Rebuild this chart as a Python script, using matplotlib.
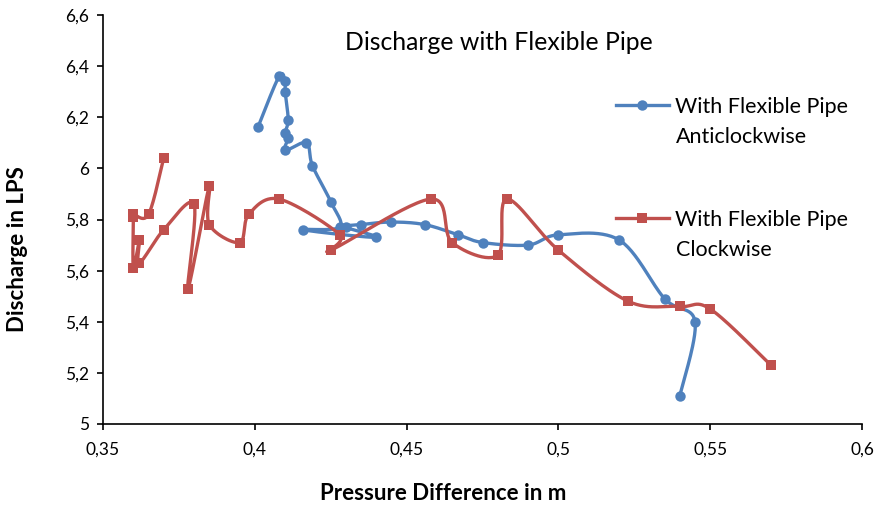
import numpy as np
import matplotlib
matplotlib.use("Agg")
import matplotlib.pyplot as plt
from matplotlib.lines import Line2D
from matplotlib.legend import Legend

# ---- data ----
anti_x = [0.401, 0.408, 0.410, 0.410, 0.411, 0.410, 0.411, 0.410, 0.417, 0.419, 0.425,
          0.428, 0.416, 0.440, 0.430, 0.435, 0.445, 0.456, 0.467, 0.475, 0.490, 0.500,
          0.520, 0.535, 0.545, 0.540]
anti_y = [6.16, 6.36, 6.34, 6.30, 6.19, 6.14, 6.12, 6.07, 6.10, 6.01, 5.87,
          5.77, 5.76, 5.73, 5.77, 5.78, 5.79, 5.78, 5.74, 5.71, 5.70, 5.74,
          5.72, 5.49, 5.40, 5.11]

clock_x = [0.370, 0.365, 0.360, 0.360, 0.360, 0.362, 0.362, 0.370, 0.380, 0.378, 0.385,
           0.385, 0.395, 0.398, 0.408, 0.428, 0.425, 0.458, 0.465, 0.480, 0.483, 0.500,
           0.523, 0.540, 0.550, 0.570]
clock_y = [6.04, 5.82, 5.82, 5.81, 5.61, 5.72, 5.63, 5.76, 5.86, 5.53, 5.93,
           5.78, 5.71, 5.82, 5.88, 5.74, 5.68, 5.88, 5.71, 5.66, 5.88, 5.68,
           5.48, 5.46, 5.45, 5.23]

series_labels = ["With Flexible Pipe", "With Flexible Pipe"]
series_sub = ["Anticlockwise", "Clockwise"]
title = "Discharge with Flexible Pipe"
xlabel = "Pressure Difference in m"
ylabel = "Discharge in LPS"
xticks = [0.35, 0.40, 0.45, 0.50, 0.55, 0.60]
xticklabels = ["0,35", "0,4", "0,45", "0,5", "0,55", "0,6"]
yticks = [5.0, 5.2, 5.4, 5.6, 5.8, 6.0, 6.2, 6.4, 6.6]
yticklabels = ["5", "5,2", "5,4", "5,6", "5,8", "6", "6,2", "6,4", "6,6"]

BLUE = "#4F81BD"
RED = "#C0504D"
FONT = "Lato"

plt.rcParams['font.family'] = [FONT, 'DejaVu Sans']

W, H = 882, 505
fig = plt.figure(figsize=(W / 100, H / 100), dpi=100)
ax = fig.add_axes([103 / W, 1 - 424 / H, 759 / W, 409 / H])
ax.set_xlim(0.35, 0.6)
ax.set_ylim(5.0, 6.6)


def smooth(ax, xs, ys, n=30):
    """Excel-like smoothed line: cubic Bezier in display space."""
    pts = ax.transData.transform(np.column_stack([xs, ys]))
    m = len(pts)
    out = []
    for i in range(m - 1):
        p0 = pts[max(i - 1, 0)]
        p1 = pts[i]
        p2 = pts[i + 1]
        p3 = pts[min(i + 2, m - 1)]
        c1 = p1 + (p2 - p0) / 6.0
        c2 = p2 - (p3 - p1) / 6.0
        t = np.linspace(0, 1, n)[:, None]
        seg = ((1 - t) ** 3) * p1 + 3 * ((1 - t) ** 2) * t * c1 + 3 * (1 - t) * t ** 2 * c2 + t ** 3 * p2
        out.append(seg if i == 0 else seg[1:])
    out = np.vstack(out)
    d = ax.transData.inverted().transform(out)
    return d[:, 0], d[:, 1]


for xs, ys, col, mk, z in [(anti_x, anti_y, BLUE, 'o', 2), (clock_x, clock_y, RED, 's', 4)]:
    sx, sy = smooth(ax, xs, ys)
    ax.plot(sx, sy, color=col, lw=2.4, zorder=z, solid_capstyle='round', solid_joinstyle='round')
    ax.plot(xs, ys, linestyle='none', marker=mk, color=col, markersize=7.5 if mk == 'o' else 7,
            markeredgewidth=0, zorder=z + 0.5)

ax.set_xticks(xticks)
ax.set_xticklabels(xticklabels)
ax.set_yticks(yticks)
ax.set_yticklabels(yticklabels)
for s in ['top', 'right']:
    ax.spines[s].set_visible(False)
for s in ['left', 'bottom']:
    ax.spines[s].set_linewidth(1.2)
    ax.spines[s].set_color('black')
ax.tick_params(axis='both', direction='out', length=4, width=1.2, labelsize=12.5, colors='black', pad=6)
ax.tick_params(axis='x', pad=9)

fig.text(443 / W, 1 - 493 / H, xlabel, ha='center', va='center', fontsize=16, fontweight='bold')
fig.text(18 / W, 1 - 249 / H, ylabel, ha='center', va='center', fontsize=16, fontweight='bold', rotation=90)
fig.text(499 / W, 1 - 42 / H, title, ha='center', va='center', fontsize=17.8)

LFS = 15.5
handles = [Line2D([], [], color=BLUE, lw=2.4, marker='o', markersize=7.5, markeredgewidth=0),
           Line2D([], [], color=RED, lw=2.4, marker='s', markersize=7, markeredgewidth=0)]
centers = [107, 220]
for i in range(2):
    lg = Legend(ax, [handles[i]], [series_labels[i]], loc='center left',
                bbox_to_anchor=(616 / W, 1 - centers[i] / H), bbox_transform=fig.transFigure,
                frameon=False, fontsize=LFS, handlelength=2.45, handletextpad=0.3,
                borderpad=0, borderaxespad=0)
    ax.add_artist(lg)
    fig.text(676 / W, 1 - (centers[i] + 30) / H, series_sub[i], ha='left', va='center', fontsize=LFS)

fig.savefig("out.png", dpi=100)
